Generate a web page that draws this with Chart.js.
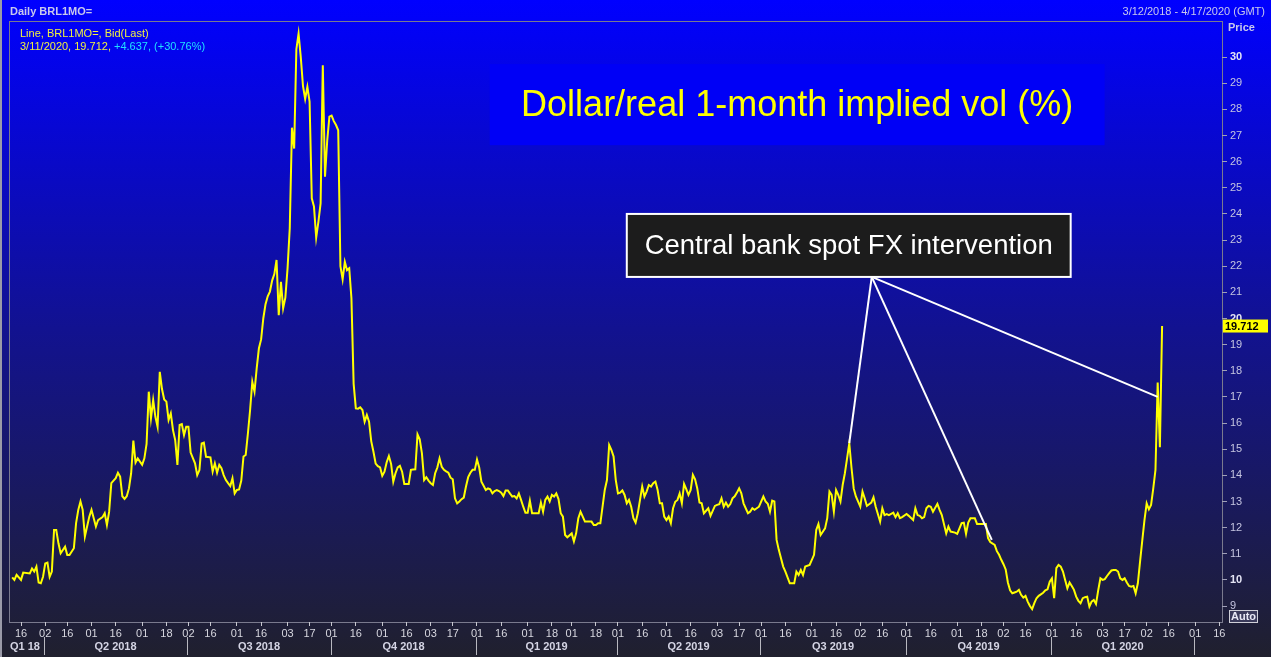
<!DOCTYPE html>
<html>
<head>
<meta charset="utf-8">
<title>Daily BRL1MO=</title>
<script src="https://cdn.jsdelivr.net/npm/chart.js@4.4.1/dist/chart.umd.min.js"></script>
<style>
  html, body { margin: 0; padding: 0; background: #20202e; overflow: hidden; }
  #wrap { width: 1271px; height: 657px; }
</style>
</head>
<body>
<div id="wrap"><canvas id="volChart" width="1271" height="657"></canvas></div>
<script>
// Date range shown on the axis (weekdays only)
const rangeStart = '2018-03-12';
const rangeEnd = '2020-04-17';

// Observations: trading day number (0 = 3/12/2018) and BRL 1M implied vol (%)
const obsDay = [
  0, 1, 2, 4, 5, 8, 9, 10, 11, 12, 13, 14, 15, 16, 17, 18, 19, 20, 21, 22, 24, 25, 26, 28, 29, 30,
  31, 32, 33, 34, 35, 36, 38, 39, 41, 42, 43, 44, 45, 46, 47, 48, 49, 50, 51, 52, 53, 54, 55, 56,
  57, 59, 60, 61, 62, 63, 64, 65, 66, 67, 68, 69, 70, 71, 72, 73, 74, 75, 76, 77, 78, 79, 80, 81,
  83, 84, 85, 86, 87, 88, 90, 91, 92, 93, 94, 95, 96, 97, 98, 99, 100, 101, 102, 103, 104, 105,
  106, 107, 108, 109, 110, 111, 112, 113, 114, 115, 116, 117, 118, 119, 120, 121, 122, 123, 124,
  125, 126, 127, 128, 129, 130, 131, 132, 133, 134, 135, 136, 137, 138, 139, 140, 141, 142, 143,
  144, 145, 146, 147, 148, 149, 150, 151, 152, 153, 154, 155, 156, 157, 158, 159, 160, 161, 162,
  163, 164, 165, 166, 167, 168, 169, 170, 171, 172, 173, 174, 175, 176, 177, 178, 179, 180, 181,
  182, 183, 184, 185, 186, 187, 188, 189, 190, 191, 192, 193, 194, 195, 196, 197, 198, 199, 200,
  201, 202, 203, 204, 205, 206, 207, 208, 209, 210, 211, 212, 213, 214, 215, 216, 217, 218, 219,
  220, 221, 222, 223, 224, 225, 226, 227, 228, 229, 230, 231, 232, 233, 234, 235, 236, 237, 238,
  239, 240, 241, 242, 243, 244, 245, 246, 247, 248, 249, 250, 251, 252, 254, 255, 256, 257, 258,
  259, 260, 263, 264, 265, 266, 267, 268, 269, 270, 271, 272, 273, 274, 275, 276, 277, 278, 279,
  280, 281, 282, 283, 284, 285, 286, 287, 288, 289, 290, 291, 292, 293, 294, 295, 296, 297, 298,
  299, 300, 301, 302, 303, 304, 305, 306, 307, 308, 309, 310, 311, 312, 313, 314, 316, 317, 319,
  320, 321, 322, 323, 324, 325, 326, 327, 328, 329, 330, 331, 332, 334, 335, 336, 337, 339, 341,
  342, 343, 344, 345, 346, 347, 348, 350, 351, 353, 355, 356, 357, 358, 359, 360, 362, 364, 365,
  366, 367, 369, 370, 371, 372, 373, 374, 375, 376, 377, 378, 379, 380, 381, 382, 383, 385, 386,
  387, 388, 390, 391, 392, 394, 395, 396, 397, 398, 400, 401, 402, 403, 404, 406, 407, 409, 410,
  411, 412, 413, 414, 415, 416, 417, 418, 420, 421, 422, 424, 425, 426, 428, 429, 431, 432, 433,
  434, 435, 437, 438, 440, 442, 443, 444, 446, 447, 448, 449, 450, 451, 452, 453, 454, 455, 456,
  457, 458, 459, 460, 461, 462, 463, 464, 465, 466, 468, 469, 470, 471, 472, 473, 474, 475, 476,
  477, 478, 479, 480, 481, 482, 483, 484, 485, 486, 487, 488, 489, 490, 491, 492, 493, 494, 495,
  496, 497, 498, 499, 500, 501, 502, 503, 504, 505, 506, 507, 508, 509, 510, 511, 512, 513, 514,
  515, 516, 517, 518, 519, 520, 521, 522
];
const volValues = [
  10.1, 10.0, 10.19, 10.0, 10.28, 10.25, 10.44, 10.32, 10.51, 9.9, 9.87, 10.12, 10.63, 10.66, 10.12,
  10.32, 11.91, 11.91, 11.4, 11.02, 11.27, 10.95, 10.95, 11.21, 12.17, 12.68,
  13.0, 12.68, 11.66, 12.04, 12.42, 12.68, 12.04, 12.29, 12.4, 12.55, 12.1, 12.6, 13.7, 13.8, 13.89,
  14.1, 13.95, 13.2, 13.1, 13.2, 13.5, 14.08, 15.33, 14.49,
  14.65, 14.4, 14.65, 15.2, 17.2, 16.18, 16.88, 16.24, 15.86, 17.96, 17.3, 16.9, 16.82, 16.12, 16.37,
  15.73, 15.35, 14.4, 15.93, 15.96, 15.54, 15.86, 15.86, 14.87,
  14.46, 14.01, 14.2, 15.22, 15.25, 14.71, 14.69, 14.14, 14.46, 14.1, 14.4, 14.27, 14.01, 13.82, 13.7,
  13.59, 13.89, 13.31, 13.44, 13.46, 13.8, 14.72,
  14.78, 15.6, 16.5, 17.58, 17.2, 18.1, 18.86, 19.2, 20.01, 20.55, 20.85, 21.03, 21.45, 21.7, 22.24,
  20.13, 21.4, 20.39, 20.8,
  21.92, 23.45, 27.3, 26.5, 30.3, 30.9, 30.0, 28.9, 28.4, 28.86, 28.3, 24.6, 24.28, 23.1, 23.7, 24.4,
  29.69, 25.42, 26.8,
  27.72, 27.76, 27.55, 27.4, 27.2, 22.0, 21.5, 22.17, 21.85, 21.92, 20.77, 17.5, 16.56, 16.55, 16.6,
  16.5, 16.05, 16.31, 16.05,
  15.3, 14.9, 14.45, 14.35, 14.3, 13.98, 14.14, 14.5, 14.74, 14.44, 13.76, 14.08, 14.3, 14.36, 14.14,
  13.67, 13.67, 13.67, 14.21,
  14.22, 14.23, 15.57, 15.38, 14.84, 13.82, 13.93, 13.8, 13.7, 13.63, 14.08, 14.3, 14.65, 14.33,
  14.21, 14.15, 14.1, 13.91, 13.85,
  13.12, 12.93, 13.0, 13.09, 13.15, 13.57, 13.93, 14.1, 14.21, 14.21, 14.61, 14.3, 13.76, 13.6, 13.44,
  13.5, 13.47, 13.31, 13.4,
  13.44, 13.4, 13.34, 13.21, 13.42, 13.42, 13.3, 13.19, 13.21, 13.12, 13.31, 13.06, 12.8, 12.57,
  12.57, 13.03, 12.55, 12.55, 12.55,
  12.55, 12.96, 12.61, 13.06, 13.19, 13.0, 13.25, 13.19, 13.31, 13.09, 12.55, 12.42, 11.72, 11.63,
  11.78, 11.47, 11.78, 12.36, 12.61,
  12.42, 12.23, 12.23, 12.1, 12.1, 12.17, 12.17, 12.8, 13.44, 13.82, 15.16, 14.97, 14.72, 13.82,
  13.31, 13.34, 13.42, 13.25, 12.93,
  13.06, 12.8, 12.36, 12.19, 12.55, 13.06, 13.57, 13.19, 13.38, 13.63, 13.57, 13.7, 13.76, 13.44,
  12.93, 12.93, 12.42, 12.29, 12.42,
  12.17, 12.74, 12.99, 13.06, 13.31, 12.93, 13.67, 13.47, 13.25, 13.44, 14.02, 13.85, 13.5, 12.96,
  12.93, 12.55, 12.74, 12.45, 12.83,
  12.87, 12.9, 13.12, 12.8, 12.96, 12.8, 12.9, 13.12, 13.2, 13.34, 13.5, 13.31, 12.93, 12.55, 12.61,
  12.74, 12.68, 12.8, 13.19,
  13.0, 12.91, 12.61, 13.03, 13.0, 11.53, 11.15, 10.51, 10.32, 9.87, 9.87, 10.32, 10.19, 10.38, 10.19,
  10.51, 10.57, 10.96, 11.91,
  12.14, 11.72, 11.97, 12.36, 13.38, 13.25, 12.61, 13.44, 13.25, 13.0, 13.63, 14.08, 14.65, 15.23,
  14.3, 13.5, 13.19, 12.8, 13.38,
  13.12, 12.83, 12.96, 13.16, 12.8, 12.23, 12.74, 12.48, 12.52, 12.48, 12.57, 12.4, 12.55, 12.36,
  12.4, 12.52, 12.45, 12.29, 12.74,
  12.48, 12.45, 12.36, 12.4, 12.74, 12.83, 12.8, 12.61, 12.91, 12.68, 12.48, 11.78, 12.04, 11.85,
  11.81, 11.76, 12.17, 12.19, 11.76,
  12.19, 12.36, 12.36, 12.14, 12.14, 12.14, 11.6, 11.45, 11.34, 11.1, 10.96, 10.77, 10.6, 10.4, 9.9,
  9.6, 9.49, 9.52, 9.55,
  9.62, 9.43, 9.32, 9.39, 9.17, 9.0, 8.88, 9.11, 9.3, 9.39, 9.51, 9.6, 9.64, 9.93, 10.06, 9.3, 10.45,
  10.57, 10.51,
  10.32, 10.0, 9.68, 9.9, 9.77, 9.62, 9.36, 9.2, 9.11, 9.3, 9.34, 9.36, 8.98, 9.17, 9.23, 9.08, 9.6,
  10.06, 10.0,
  10.03, 10.15, 10.26, 10.36, 10.38, 10.38, 10.32, 10.06, 10.0, 10.06, 9.9, 9.77, 9.74, 9.77, 9.49,
  9.87, 10.7, 11.5, 12.29,
  12.93, 12.7, 12.87, 13.5, 14.21, 17.55, 15.075, 19.712
];

const priceTicks = [9, 10, 11, 12, 13, 14, 15, 16, 17, 18, 19, 20, 21, 22, 23, 24, 25, 26, 27, 28, 29, 30];
const quarterNames = ['Q1 18', 'Q2 2018', 'Q3 2018', 'Q4 2018', 'Q1 2019', 'Q2 2019', 'Q3 2019', 'Q4 2019', 'Q1 2020', ''];

const headerText = 'Daily BRL1MO=';
const rangeText = '3/12/2018 - 4/17/2020 (GMT)';
const legendLine1 = 'Line, BRL1MO=, Bid(Last)';
const legendLine2a = '3/11/2020, 19.712, ';
const legendLine2b = '+4.637, (+30.76%)';
const lastValue = 19.712;

const titleText = 'Dollar/real 1-month implied vol (%)';
const noteText = 'Central bank spot FX intervention';
// annotation geometry in data units: [trading day, vol]
const titleBox = { from: [216.8, 29.73], to: [495.9, 26.63] };
const noteBox = { from: [279.0, 24.0], to: [480.5, 21.59] };
const noteApex = [390.2, 21.59];
const noteTargets = [[380, 15.23], [444.7, 11.53], [520.0, 17.0]];

const FONT = '"Liberation Sans", Arial, sans-serif';

// Build weekday list for the date axis
function buildTradingDates(start, end) {
  const out = [];
  const d = new Date(start + 'T00:00:00Z');
  const last = new Date(end + 'T00:00:00Z');
  while (d <= last) {
    const wd = d.getUTCDay();
    if (wd !== 0 && wd !== 6) out.push(d.toISOString().slice(0, 10));
    d.setUTCDate(d.getUTCDate() + 1);
  }
  return out;
}
const tradingDates = buildTradingDates(rangeStart, rangeEnd);

// first trading day of each half month gets a tick label
const halfKey = s => {
  const [y, m, d] = s.split('-').map(Number);
  return y * 24 + m * 2 + (d >= 16 ? 1 : 0);
};
const quarterKey = s => {
  const [y, m] = s.split('-').map(Number);
  return y * 4 + Math.floor((m - 1) / 3);
};
const dayTickIdx = [];
const quarterStartIdx = [0];
for (let i = 1; i < tradingDates.length; i++) {
  if (halfKey(tradingDates[i]) !== halfKey(tradingDates[i - 1])) dayTickIdx.push(i);
  if (quarterKey(tradingDates[i]) !== quarterKey(tradingDates[i - 1])) quarterStartIdx.push(i);
}

const bgPlugin = {
  id: 'bgPlugin',
  beforeDraw(chart) {
    const { ctx, width, height, chartArea } = chart;
    ctx.save();
    const g = ctx.createLinearGradient(0, 0, 0, height);
    g.addColorStop(0, '#0000ff');
    g.addColorStop(0.5, '#121290');
    g.addColorStop(1, '#20202e');
    ctx.fillStyle = g;
    ctx.fillRect(0, 0, width, height);
    // window edge
    ctx.fillStyle = '#9a9aa8';
    ctx.fillRect(0, 0, 2, height);
    // plot frame
    ctx.strokeStyle = '#7a7a8e';
    ctx.lineWidth = 1;
    ctx.strokeRect(chartArea.left + 0.5, chartArea.top + 0.5, chartArea.right - chartArea.left, chartArea.bottom - chartArea.top);
    // header texts
    ctx.textBaseline = 'middle';
    ctx.fillStyle = '#c8c8ec';
    ctx.font = 'bold 11px ' + FONT;
    ctx.textAlign = 'left';
    ctx.fillText(headerText, 10, 12);
    ctx.font = '11px ' + FONT;
    ctx.textAlign = 'right';
    ctx.fillText(rangeText, 1265, 12);
    ctx.restore();
  }
};

const overlayPlugin = {
  id: 'overlayPlugin',
  afterDraw(chart) {
    const { ctx, chartArea } = chart;
    const xs = chart.scales.x, ys = chart.scales.y;
    const px = d => xs.getPixelForValue(d);
    const py = v => ys.getPixelForValue(v);
    ctx.save();

    // legend text, top left
    ctx.textBaseline = 'middle';
    ctx.textAlign = 'left';
    ctx.font = '11px ' + FONT;
    ctx.fillStyle = '#f0f040';
    ctx.fillText(legendLine1, 20, 34);
    ctx.fillText(legendLine2a, 20, 47);
    const w2 = ctx.measureText(legendLine2a).width;
    ctx.fillStyle = '#20e0ff';
    ctx.fillText(legendLine2b, 20 + w2, 47);

    // title box
    const tx0 = px(titleBox.from[0]), ty0 = py(titleBox.from[1]);
    const tx1 = px(titleBox.to[0]), ty1 = py(titleBox.to[1]);
    ctx.fillStyle = '#0000f6';
    ctx.fillRect(tx0, ty0, tx1 - tx0, ty1 - ty0);
    ctx.fillStyle = '#ffff00';
    ctx.font = '36px ' + FONT;
    ctx.textAlign = 'center';
    ctx.fillText(titleText, (tx0 + tx1) / 2, (ty0 + ty1) / 2 + 1);

    // pointer lines
    ctx.strokeStyle = '#ffffff';
    ctx.lineWidth = 2;
    const ax = px(noteApex[0]), ay = py(noteApex[1]);
    noteTargets.forEach(([d, v]) => {
      ctx.beginPath();
      ctx.moveTo(ax, ay);
      ctx.lineTo(px(d), py(v));
      ctx.stroke();
    });

    // note box
    const nx0 = px(noteBox.from[0]), ny0 = py(noteBox.from[1]);
    const nx1 = px(noteBox.to[0]), ny1 = py(noteBox.to[1]);
    ctx.fillStyle = '#1c1c1c';
    ctx.fillRect(nx0, ny0, nx1 - nx0, ny1 - ny0);
    ctx.strokeStyle = '#ffffff';
    ctx.lineWidth = 2;
    ctx.strokeRect(nx0, ny0, nx1 - nx0, ny1 - ny0);
    ctx.fillStyle = '#ffffff';
    ctx.font = '27.5px ' + FONT;
    ctx.fillText(noteText, (nx0 + nx1) / 2, (ny0 + ny1) / 2 + 1);

    // right axis: header and last value marker
    ctx.textAlign = 'left';
    ctx.font = 'bold 11px ' + FONT;
    ctx.fillStyle = '#c8c8ec';
    ctx.fillText('Price', 1228, 28);
    const ly = py(lastValue);
    ctx.fillStyle = '#ffff00';
    ctx.fillRect(chartArea.right + 1, ly - 6.5, 45, 13);
    ctx.fillStyle = '#000000';
    ctx.fillText(lastValue.toFixed(3), chartArea.right + 3, ly + 0.5);

    // Auto button
    ctx.fillStyle = '#3a3a5a';
    ctx.fillRect(1229, 610, 28, 12);
    ctx.strokeStyle = '#d0d0d8';
    ctx.lineWidth = 1;
    ctx.strokeRect(1229.5, 610.5, 28, 12);
    ctx.fillStyle = '#e8e8f4';
    ctx.fillText('Auto', 1231, 617);

    // quarter row
    ctx.strokeStyle = '#b8b8c0';
    ctx.lineWidth = 1;
    const qEdges = quarterStartIdx.map((idx, k) => (k === 0 ? chartArea.left : Math.round(px(idx)) - 1));
    qEdges.push(chartArea.right);
    quarterStartIdx.forEach((idx, k) => {
      if (k > 0) {
        ctx.beginPath();
        ctx.moveTo(qEdges[k] + 0.5, 637);
        ctx.lineTo(qEdges[k] + 0.5, 655);
        ctx.stroke();
      }
      const name = quarterNames[k] || '';
      if (!name) return;
      ctx.fillStyle = '#d4d4e4';
      ctx.font = 'bold 11px ' + FONT;
      const w = ctx.measureText(name).width;
      if (k === 0) {
        ctx.textAlign = 'left';
        ctx.fillText(name, 10, 647);
      } else if (qEdges[k + 1] - qEdges[k] > w + 6) {
        ctx.textAlign = 'center';
        ctx.fillText(name, (qEdges[k] + qEdges[k + 1]) / 2, 647);
      }
    });
    ctx.restore();
  }
};

const chart = new Chart(document.getElementById('volChart'), {
  type: 'line',
  data: {
    datasets: [{
      label: 'BRL1MO=',
      data: obsDay.map((d, k) => ({ x: d, y: volValues[k] })),
      borderColor: '#ffff00',
      borderWidth: 2,
      pointRadius: 0,
      tension: 0,
      fill: false
    }]
  },
  options: {
    responsive: false,
    animation: false,
    devicePixelRatio: 1,
    layout: { padding: { top: 21, left: 9, right: 0, bottom: 0 } },
    plugins: {
      legend: { display: false },
      tooltip: { enabled: false }
    },
    scales: {
      x: {
        type: 'linear',
        min: -1.45,
        max: tradingDates.length - 0.8,
        afterBuildTicks: scale => { scale.ticks = dayTickIdx.map(v => ({ value: v })); },
        afterFit: scale => { scale.height = 35; },
        grid: { drawOnChartArea: false, tickLength: 4, color: '#c8c8d0' },
        border: { display: false },
        ticks: {
          autoSkip: false,
          maxRotation: 0,
          padding: 1,
          color: '#d8d8e0',
          font: { family: FONT, size: 11 },
          callback: value => (tradingDates[value] || '').slice(8, 10)
        }
      },
      y: {
        position: 'right',
        min: 8.39,
        max: 31.38,
        afterBuildTicks: scale => { scale.ticks = priceTicks.map(v => ({ value: v })); },
        afterFit: scale => { scale.width = 49; },
        grid: { drawOnChartArea: false, tickLength: 5, color: '#a0a0b8' },
        border: { display: false },
        ticks: {
          padding: 3,
          color: c => (c.tick && c.tick.value % 10 === 0 ? '#e4e4f4' : '#c4c4e0'),
          font: c => ({ family: FONT, size: 11, weight: c.tick && c.tick.value % 10 === 0 ? 'bold' : 'normal' }),
          callback: v => String(v)
        }
      }
    }
  },
  plugins: [bgPlugin, overlayPlugin]
});
</script>
</body>
</html>
